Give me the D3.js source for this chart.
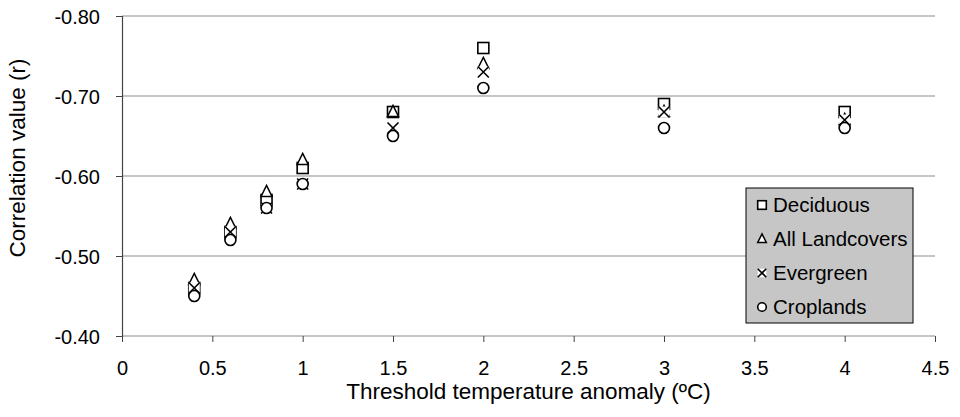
<!DOCTYPE html>
<html>
<head>
<meta charset="utf-8">
<script src="https://cdn.jsdelivr.net/npm/d3@7"></script>
<style>
  body { margin: 0; background: #fff; }
  svg text { font-family: "Liberation Sans", Arial, sans-serif; fill: #000; }
</style>
</head>
<body>
<div id="chart"></div>
<script>
// Threshold anomalies on the x axis
var thresholds = [0.4, 0.6, 0.8, 1, 1.5, 2, 3, 4];

// Correlation values per landcover (same order as thresholds)
var deciduous     = [-0.46, -0.53, -0.57, -0.61, -0.68, -0.76, -0.69, -0.68];
var allLandcovers = [-0.47, -0.54, -0.58, -0.62, -0.68, -0.74, -0.68, -0.67];
var evergreen     = [-0.46, -0.53, -0.56, -0.59, -0.66, -0.73, -0.68, -0.67];
var croplands     = [-0.45, -0.52, -0.56, -0.59, -0.65, -0.71, -0.66, -0.66];

var seriesNames = ["Deciduous", "All Landcovers", "Evergreen", "Croplands"];
var seriesShapes = ["square", "triangle", "cross", "circle"];

var xTicks = [0, 0.5, 1, 1.5, 2, 2.5, 3, 3.5, 4, 4.5];
var yTicks = [-0.4, -0.5, -0.6, -0.7, -0.8];

var width = 960, height = 417;
var margin = {top: 16, right: 25, bottom: 81, left: 122};

var svg = d3.select("#chart")
    .append("svg")
    .attr("width", width)
    .attr("height", height);

var x = d3.scaleLinear()
    .domain([0, 4.5])
    .range([margin.left, width - margin.right]);

var y = d3.scaleLinear()
    .domain([-0.4, -0.8])
    .range([height - margin.bottom, margin.top]);

// plain hyphen instead of unicode minus
var fmtY = function(d) { return d.toFixed(2).replace("\u2212", "-"); };

// Gridlines
svg.append("g")
    .selectAll("line")
    .data(yTicks)
    .enter()
    .append("line")
    .attr("x1", x(0))
    .attr("x2", x(4.5))
    .attr("y1", function(d) { return y(d); })
    .attr("y2", function(d) { return y(d); })
    .attr("stroke", "#8c8c8c")
    .attr("stroke-width", 1.2);

// Y axis
var yAxis = svg.append("g")
    .attr("transform", "translate(" + x(0) + ",0)")
    .call(d3.axisLeft(y).tickValues(yTicks).tickSize(6).tickFormat(fmtY));
yAxis.select(".domain").attr("stroke", "#444").attr("stroke-width", 1.2);
yAxis.selectAll(".tick line").attr("stroke", "#444");
yAxis.selectAll("text")
    .attr("x", -22)
    .attr("dy", "0.36em")
    .style("font-size", "20px");

// X axis
var xAxis = svg.append("g")
    .attr("transform", "translate(0," + y(-0.4) + ")")
    .call(d3.axisBottom(x).tickValues(xTicks).tickSize(6).tickFormat(function(d) { return String(d); }));
xAxis.select(".domain").remove();
xAxis.selectAll(".tick line").attr("stroke", "#444");
xAxis.selectAll("text")
    .attr("y", 39)
    .attr("dy", 0)
    .style("font-size", "20px");

// Axis titles
svg.append("text")
    .attr("transform", "translate(25,158) rotate(-90)")
    .attr("text-anchor", "middle")
    .style("font-size", "22.5px")
    .text("Correlation value (r)");

svg.append("text")
    .attr("x", (x(0) + x(4.5)) / 2)
    .attr("y", 399)
    .attr("text-anchor", "middle")
    .style("font-size", "22.5px")
    .text("Threshold temperature anomaly (\u00BAC)");

// Marker drawing helper, s = half size
function drawMarker(g, shape, cx, cy, s) {
    if (shape == "square") {
        g.append("rect")
            .attr("x", cx - s).attr("y", cy - s)
            .attr("width", 2 * s).attr("height", 2 * s)
            .attr("fill", "#fff").attr("stroke", "#000").attr("stroke-width", 1.6);
    } else if (shape == "triangle") {
        g.append("path")
            .attr("d", "M" + cx + "," + (cy - 1.2 * s) + "L" + (cx + s) + "," + (cy + 0.8 * s) + "L" + (cx - s) + "," + (cy + 0.8 * s) + "Z")
            .attr("fill", "#fff").attr("stroke", "#000").attr("stroke-width", 1.5);
    } else if (shape == "cross") {
        g.append("rect")
            .attr("x", cx - s).attr("y", cy - s)
            .attr("width", 2 * s).attr("height", 2 * s)
            .attr("fill", "#fff");
        g.append("path")
            .attr("d", "M" + (cx - s) + "," + (cy - s) + "L" + (cx + s) + "," + (cy + s) +
                       "M" + (cx + s) + "," + (cy - s) + "L" + (cx - s) + "," + (cy + s))
            .attr("stroke", "#000").attr("stroke-width", 1.6);
    } else {
        g.append("circle")
            .attr("cx", cx).attr("cy", cy).attr("r", s)
            .attr("fill", "#fff").attr("stroke", "#000").attr("stroke-width", 1.6);
    }
}

// Points
var allSeries = [deciduous, allLandcovers, evergreen, croplands];
var points = svg.append("g");
allSeries.forEach(function(vals, i) {
    vals.forEach(function(v, j) {
        drawMarker(points, seriesShapes[i], x(thresholds[j]), y(v), 5.5);
    });
});

// Legend
var legend = svg.append("g");
legend.append("rect")
    .attr("x", 746).attr("y", 188)
    .attr("width", 167).attr("height", 135)
    .attr("fill", "#c6c6c6")
    .attr("stroke", "#000")
    .attr("stroke-width", 1);

seriesNames.forEach(function(name, i) {
    var ly = 205 + i * 34;
    var lg = legend.append("g");
    drawMarker(lg, seriesShapes[i], 762, ly, 4.3);
    lg.append("text")
        .attr("x", 773)
        .attr("y", ly + 7)
        .style("font-size", "20.5px")
        .text(name);
});
</script>
</body>
</html>
